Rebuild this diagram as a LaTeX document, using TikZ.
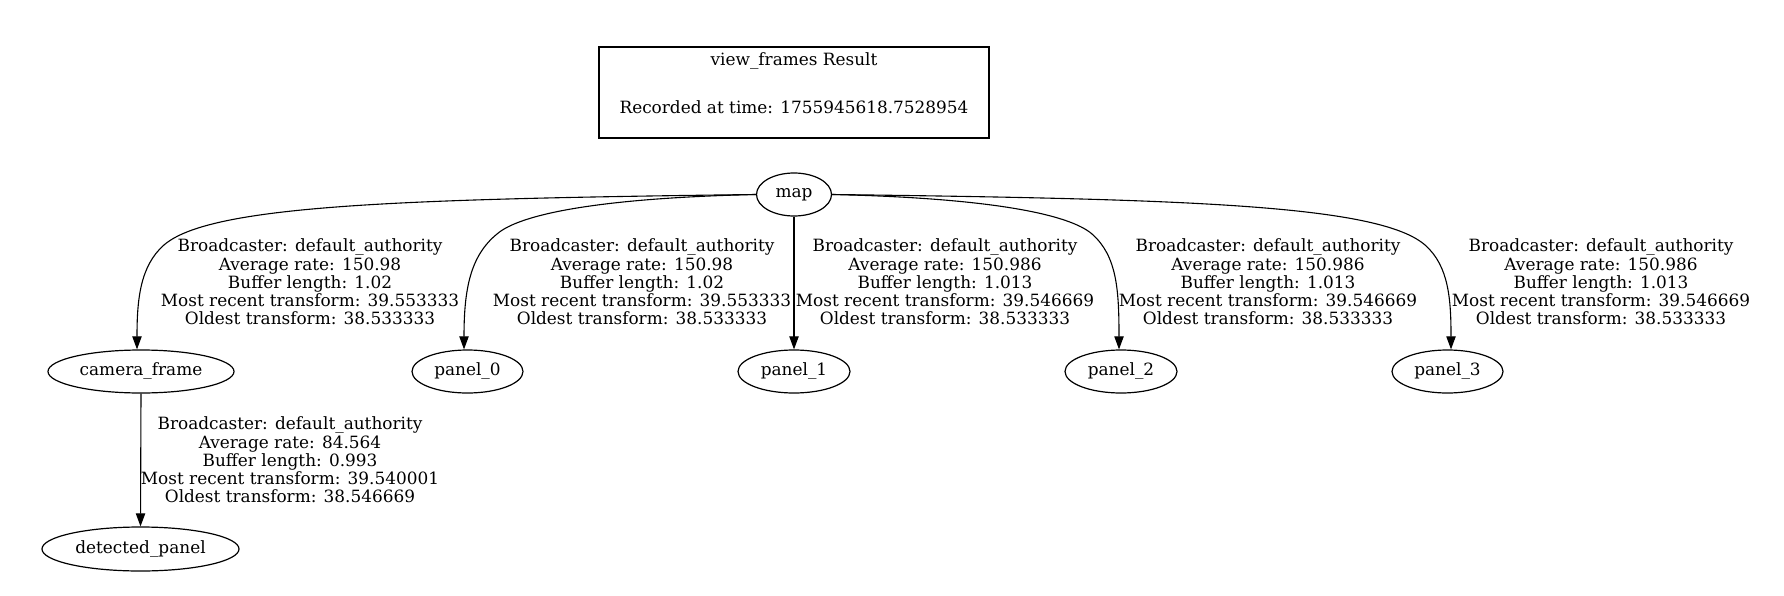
\documentclass[tikz,border=0pt]{standalone}
\usepackage{fontspec}
\setmainfont{DejaVu Serif}
\usetikzlibrary{arrows.meta,shapes.geometric}
\begin{document}
\begin{tikzpicture}[x=1pt,y=-1pt,
  every node/.style={font=\fontsize{16.9}{18.3}\selectfont},
  frame/.style={ellipse,draw,line width=1.2pt,inner sep=0pt,minimum height=43pt},
  edge/.style={line width=1.1pt,-{Triangle[length=13pt,width=9.3pt]}},
  lbl/.style={align=center,inner sep=0pt}]
\useasboundingbox (0,0) rectangle (1784,596);
% legend box
\node[draw,line width=2.3pt,minimum width=390pt,minimum height=91pt,inner sep=0pt] (legend) at (794,92.5) {};
\node[inner sep=0pt] (title) at (794,61) {view\_frames Result};
\node[inner sep=0pt] (rec) at (794,107) {Recorded at time: 1755945618.7528954};
% frames
\node[frame,minimum width=75pt] (map) at (794,194.5) {map};
\node[frame,minimum width=186pt] (camf) at (141,371.5) {camera\_frame};
\node[frame,minimum width=111pt] (p0) at (467.5,371.5) {panel\_0};
\node[frame,minimum width=112pt] (p1) at (794,371.5) {panel\_1};
\node[frame,minimum width=112pt] (p2) at (1121,371.5) {panel\_2};
\node[frame,minimum width=111pt] (p3) at (1447.5,371.5) {panel\_3};
\node[frame,minimum width=197pt,minimum height=44pt] (det) at (140.5,549) {detected\_panel};
% edges
\draw[edge] (map.west) .. controls (400,199) and (210,205) .. (164,245)
  .. controls (140,266) and (137,300) .. ([xshift=-4pt]camf.north);
\draw[edge] (map.west) .. controls (600,198) and (520,214) .. (497,234)
  .. controls (470,256) and (464,290) .. ([xshift=-3.5pt]p0.north);
\draw[edge] (map.south) -- (p1.north);
\draw[edge] (map.east) .. controls (989,198) and (1069,214) .. (1092,234)
  .. controls (1117,256) and (1119,290) .. ([xshift=-2pt]p2.north);
\draw[edge] (map.east) .. controls (1189,199) and (1379,205) .. (1425,245)
  .. controls (1449,266) and (1451,300) .. ([xshift=3.5pt]p3.north);
\draw[edge] (camf.south) -- (det.north);
% edge labels
\node[lbl] (l0) at (310,282) {Broadcaster: default\_authority\\Average rate: 150.98\\Buffer length: 1.02\\Most recent transform: 39.553333\\Oldest transform: 38.533333};
\node[lbl] (l1) at (642,282) {Broadcaster: default\_authority\\Average rate: 150.98\\Buffer length: 1.02\\Most recent transform: 39.553333\\Oldest transform: 38.533333};
\node[lbl] (l2) at (945,282) {Broadcaster: default\_authority\\Average rate: 150.986\\Buffer length: 1.013\\Most recent transform: 39.546669\\Oldest transform: 38.533333};
\node[lbl] (l3) at (1268,282) {Broadcaster: default\_authority\\Average rate: 150.986\\Buffer length: 1.013\\Most recent transform: 39.546669\\Oldest transform: 38.533333};
\node[lbl] (l4) at (1601,282) {Broadcaster: default\_authority\\Average rate: 150.986\\Buffer length: 1.013\\Most recent transform: 39.546669\\Oldest transform: 38.533333};
\node[lbl] (l5) at (290,460) {Broadcaster: default\_authority\\Average rate: 84.564\\Buffer length: 0.993\\Most recent transform: 39.540001\\Oldest transform: 38.546669};
\end{tikzpicture}
\end{document}
